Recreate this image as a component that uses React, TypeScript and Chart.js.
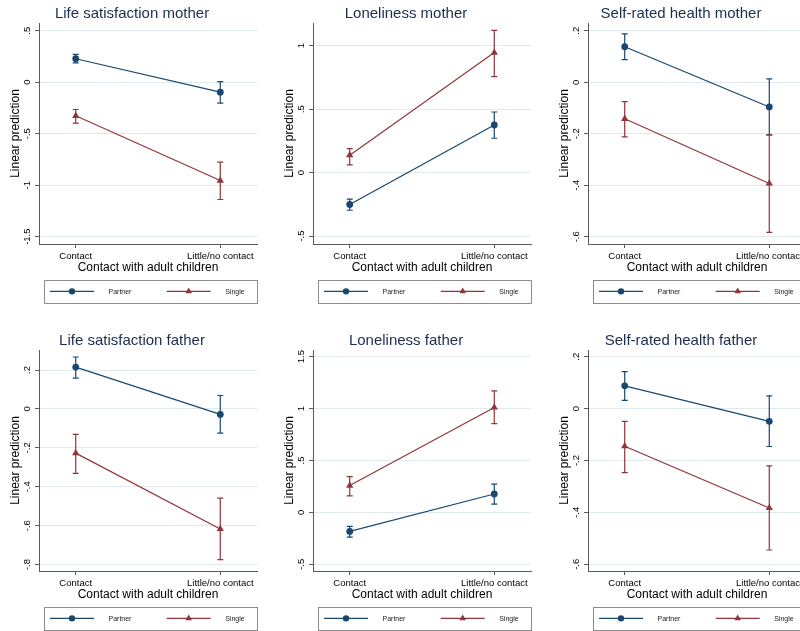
import React, { useEffect, useRef } from 'react';
import { Chart, registerables } from 'chart.js';

Chart.register(...registerables);

const FONT = '"Liberation Sans", Arial, Helvetica, sans-serif';
const NAVY = '#1a476f';
const MAROON = '#90353b';
const AXIS = '#5a5a5a';
const GRID = '#e0e9ed';
const TITLE_COLOR = '#1c2d50';

const categories = ['Contact', 'Little/no contact'];
const seriesNames = ['Partner', 'Single'];
const xAxisTitle = 'Contact with adult children';
const yAxisTitle = 'Linear prediction';

// ---- Life satisfaction mother ----
const lsMotherPartner = [0.228, -0.097];
const lsMotherPartnerCI = [[0.187, 0.27], [-0.203, 0.006]];
const lsMotherSingle = [-0.326, -0.955];
const lsMotherSingleCI = [[-0.397, -0.265], [-1.139, -0.775]];
const lsMotherTicks = [-1.5, -1, -0.5, 0, 0.5];
const lsMotherTickLabels = ['-1.5', '-1', '-.5', '0', '.5'];

// ---- Loneliness mother ----
const lonMotherPartner = [-0.252, 0.375];
const lonMotherPartnerCI = [[-0.297, -0.21], [0.27, 0.477]];
const lonMotherSingle = [0.136, 0.945];
const lonMotherSingleCI = [[0.06, 0.189], [0.756, 1.12]];
const lonMotherTicks = [-0.5, 0, 0.5, 1];
const lonMotherTickLabels = ['-.5', '0', '.5', '1'];

// ---- Self-rated health mother ----
const srhMotherPartner = [0.138, -0.096];
const srhMotherPartnerCI = [[0.088, 0.188], [-0.204, 0.013]];
const srhMotherSingle = [-0.142, -0.393];
const srhMotherSingleCI = [[-0.212, -0.075], [-0.583, -0.204]];
const srhMotherTicks = [-0.6, -0.4, -0.2, 0, 0.2];
const srhMotherTickLabels = ['-.6', '-.4', '-.2', '0', '.2'];

// ---- Life satisfaction father ----
const lsFatherPartner = [0.215, -0.028];
const lsFatherPartnerCI = [[0.158, 0.267], [-0.124, 0.069]];
const lsFatherSingle = [-0.227, -0.617];
const lsFatherSingleCI = [[-0.331, -0.131], [-0.775, -0.458]];
const lsFatherTicks = [-0.8, -0.6, -0.4, -0.2, 0, 0.2];
const lsFatherTickLabels = ['-.8', '-.6', '-.4', '-.2', '0', '.2'];

// ---- Loneliness father ----
const lonFatherPartner = [-0.184, 0.177];
const lonFatherPartnerCI = [[-0.239, -0.136], [0.08, 0.271]];
const lonFatherSingle = [0.258, 1.01];
const lonFatherSingleCI = [[0.158, 0.345], [0.855, 1.17]];
const lonFatherTicks = [-0.5, 0, 0.5, 1, 1.5];
const lonFatherTickLabels = ['-.5', '0', '.5', '1', '1.5'];

// ---- Self-rated health father ----
const srhFatherPartner = [0.088, -0.049];
const srhFatherPartnerCI = [[0.032, 0.143], [-0.146, 0.049]];
const srhFatherSingle = [-0.145, -0.383];
const srhFatherSingleCI = [[-0.247, -0.049], [-0.545, -0.221]];
const srhFatherTicks = [-0.6, -0.4, -0.2, 0, 0.2];
const srhFatherTickLabels = ['-.6', '-.4', '-.2', '0', '.2'];

const panelTitles = [
  'Life satisfaction mother',
  'Loneliness mother',
  'Self-rated health mother',
  'Life satisfaction father',
  'Loneliness father',
  'Self-rated health father',
];

// y-axis extents (plot region limits)
const yMins = [-1.571, -0.563, -0.628, -0.833, -0.565, -0.626];
const yMaxs = [0.575, 1.178, 0.23, 0.303, 1.564, 0.226];

type Panel = {
  title: string;
  partner: number[];
  partnerCI: number[][];
  single: number[];
  singleCI: number[][];
  ticks: number[];
  tickLabels: string[];
  yMin: number;
  yMax: number;
};

const panels: Panel[] = [
  { title: panelTitles[0], partner: lsMotherPartner, partnerCI: lsMotherPartnerCI, single: lsMotherSingle, singleCI: lsMotherSingleCI, ticks: lsMotherTicks, tickLabels: lsMotherTickLabels, yMin: yMins[0], yMax: yMaxs[0] },
  { title: panelTitles[1], partner: lonMotherPartner, partnerCI: lonMotherPartnerCI, single: lonMotherSingle, singleCI: lonMotherSingleCI, ticks: lonMotherTicks, tickLabels: lonMotherTickLabels, yMin: yMins[1], yMax: yMaxs[1] },
  { title: panelTitles[2], partner: srhMotherPartner, partnerCI: srhMotherPartnerCI, single: srhMotherSingle, singleCI: srhMotherSingleCI, ticks: srhMotherTicks, tickLabels: srhMotherTickLabels, yMin: yMins[2], yMax: yMaxs[2] },
  { title: panelTitles[3], partner: lsFatherPartner, partnerCI: lsFatherPartnerCI, single: lsFatherSingle, singleCI: lsFatherSingleCI, ticks: lsFatherTicks, tickLabels: lsFatherTickLabels, yMin: yMins[3], yMax: yMaxs[3] },
  { title: panelTitles[4], partner: lonFatherPartner, partnerCI: lonFatherPartnerCI, single: lonFatherSingle, singleCI: lonFatherSingleCI, ticks: lonFatherTicks, tickLabels: lonFatherTickLabels, yMin: yMins[4], yMax: yMaxs[4] },
  { title: panelTitles[5], partner: srhFatherPartner, partnerCI: srhFatherPartnerCI, single: srhFatherSingle, singleCI: srhFatherSingleCI, ticks: srhFatherTicks, tickLabels: srhFatherTickLabels, yMin: yMins[5], yMax: yMaxs[5] },
];

const CANVAS_W = 264;
const CANVAS_H = 327;
const COL_X = [0, 274, 549];
const ROW_Y = [0, 327];

function drawMarker(ctx: CanvasRenderingContext2D, kind: number, x: number, y: number, r: number, color: string) {
  ctx.fillStyle = color;
  ctx.beginPath();
  if (kind === 0) {
    ctx.arc(x, y, r, 0, Math.PI * 2);
  } else {
    const h = r * 1.5;
    const w = r * Math.sqrt(3);
    ctx.moveTo(x, y - r);
    ctx.lineTo(x + w / 2, y - r + h);
    ctx.lineTo(x - w / 2, y - r + h);
    ctx.closePath();
  }
  ctx.fill();
}

function makePlugin(panel: Panel) {
  const colors = [NAVY, MAROON];
  const cis = [panel.partnerCI, panel.singleCI];
  return {
    id: 'stataDecor',
    beforeDatasetsDraw(chart: any) {
      const { ctx } = chart;
      const x = chart.scales.x;
      const y = chart.scales.y;
      cis.forEach((ci, s) => {
        ctx.save();
        ctx.strokeStyle = colors[s];
        ctx.lineWidth = 1.2;
        ci.forEach((pair, i) => {
          const px = x.getPixelForValue(i);
          const pLo = y.getPixelForValue(pair[0]);
          const pHi = y.getPixelForValue(pair[1]);
          ctx.beginPath();
          ctx.moveTo(px, pLo);
          ctx.lineTo(px, pHi);
          ctx.moveTo(px - 3, pLo);
          ctx.lineTo(px + 3, pLo);
          ctx.moveTo(px - 3, pHi);
          ctx.lineTo(px + 3, pHi);
          ctx.stroke();
        });
        ctx.restore();
      });
    },
    afterDraw(chart: any) {
      const { ctx, chartArea } = chart;
      const x = chart.scales.x;
      const y = chart.scales.y;
      ctx.save();

      // Title
      ctx.fillStyle = TITLE_COLOR;
      ctx.font = `15px ${FONT}`;
      ctx.textAlign = 'center';
      ctx.textBaseline = 'alphabetic';
      ctx.fillText(panel.title, chart.width / 2, 18);

      // Y tick labels (rotated)
      ctx.fillStyle = '#000';
      ctx.font = `9.5px ${FONT}`;
      panel.ticks.forEach((v, i) => {
        const py = y.getPixelForValue(v);
        ctx.save();
        ctx.translate(chartArea.left - 9.5, py);
        ctx.rotate(-Math.PI / 2);
        ctx.textAlign = 'center';
        ctx.textBaseline = 'alphabetic';
        ctx.fillText(panel.tickLabels[i], 0, 0);
        ctx.restore();
      });

      // Y axis title
      ctx.font = `12px ${FONT}`;
      ctx.save();
      ctx.translate(chartArea.left - 20.5, (chartArea.top + chartArea.bottom) / 2);
      ctx.rotate(-Math.PI / 2);
      ctx.textAlign = 'center';
      ctx.textBaseline = 'alphabetic';
      ctx.fillText(yAxisTitle, 0, 0);
      ctx.restore();

      // X tick labels
      ctx.font = `9.5px ${FONT}`;
      ctx.textAlign = 'center';
      categories.forEach((c, i) => {
        ctx.fillText(c, x.getPixelForValue(i), chartArea.bottom + 14.5);
      });

      // X axis title
      ctx.font = `12px ${FONT}`;
      ctx.fillText(xAxisTitle, (chartArea.left + chartArea.right) / 2, chartArea.bottom + 26.8);

      // Legend
      const bl = chartArea.left + 5.3;
      const br = chartArea.right;
      const bt = chartArea.bottom + 36;
      const bb = chartArea.bottom + 58.7;
      ctx.strokeStyle = '#8c8c8c';
      ctx.lineWidth = 1;
      ctx.strokeRect(Math.round(bl) + 0.5, Math.round(bt) + 0.5, Math.round(br - bl), Math.round(bb - bt));
      const ly = (bt + bb) / 2;
      const offsets = [0, 116.7];
      ctx.font = `7px ${FONT}`;
      ctx.textBaseline = 'middle';
      ctx.textAlign = 'left';
      offsets.forEach((off, s) => {
        const x0 = bl + 5.7 + off;
        ctx.strokeStyle = colors[s];
        ctx.lineWidth = 1.2;
        ctx.beginPath();
        ctx.moveTo(x0, ly);
        ctx.lineTo(x0 + 44, ly);
        ctx.stroke();
        drawMarker(ctx, s, x0 + 22, ly, s === 0 ? 3.2 : 3.8, colors[s]);
        ctx.fillStyle = '#222';
        ctx.fillText(seriesNames[s], x0 + 58.5, ly + 0.5);
      });

      ctx.restore();
    },
  };
}

function PanelChart({ panel, left, top }: { panel: Panel; left: number; top: number }) {
  const ref = useRef<HTMLCanvasElement | null>(null);
  useEffect(() => {
    const canvas = ref.current;
    if (!canvas) return;
    const chart = new Chart(canvas, {
      type: 'line',
      data: {
        datasets: [
          {
            label: seriesNames[0],
            data: panel.partner.map((v, i) => ({ x: i, y: v })),
            borderColor: NAVY,
            backgroundColor: NAVY,
            borderWidth: 1.2,
            pointStyle: 'circle',
            pointRadius: 3.4,
            pointBorderWidth: 0,
            pointBackgroundColor: NAVY,
            tension: 0,
          },
          {
            label: seriesNames[1],
            data: panel.single.map((v, i) => ({ x: i, y: v })),
            borderColor: MAROON,
            backgroundColor: MAROON,
            borderWidth: 1.2,
            pointStyle: 'triangle',
            pointRadius: 4.2,
            pointBorderWidth: 0,
            pointBackgroundColor: MAROON,
            tension: 0,
          },
        ],
      },
      options: {
        responsive: false,
        animation: false,
        events: [],
        layout: { padding: { left: 0, right: 7, top: 23, bottom: 0 }, autoPadding: false },
        plugins: {
          legend: { display: false },
          title: { display: false },
          tooltip: { enabled: false },
        },
        scales: {
          x: {
            type: 'linear',
            min: -0.254,
            max: 1.254,
            afterBuildTicks: (scale: any) => {
              scale.ticks = categories.map((_, i) => ({ value: i }));
            },
            afterFit: (scale: any) => {
              scale.height = 83;
            },
            ticks: { display: false },
            grid: {
              display: true,
              drawOnChartArea: false,
              drawTicks: true,
              tickLength: 4,
              tickColor: AXIS,
              lineWidth: 1,
            },
            border: { display: true, color: AXIS, width: 1 },
          },
          y: {
            type: 'linear',
            min: panel.yMin,
            max: panel.yMax,
            afterBuildTicks: (scale: any) => {
              scale.ticks = panel.ticks.map((v) => ({ value: v }));
            },
            afterFit: (scale: any) => {
              scale.width = 39;
            },
            ticks: { display: false },
            grid: {
              display: true,
              drawOnChartArea: true,
              drawTicks: true,
              tickLength: 4,
              color: GRID,
              tickColor: AXIS,
              lineWidth: 1,
            },
            border: { display: true, color: AXIS, width: 1 },
          },
        },
      },
      plugins: [makePlugin(panel)],
    } as any);
    return () => chart.destroy();
  }, [panel]);
  return (
    <canvas
      ref={ref}
      width={CANVAS_W}
      height={CANVAS_H}
      style={{ position: 'absolute', left, top, width: CANVAS_W, height: CANVAS_H }}
    />
  );
}

export default function App() {
  return (
    <div
      style={{
        position: 'fixed',
        left: 0,
        top: 0,
        width: 800,
        height: 631,
        overflow: 'hidden',
        background: '#ffffff',
      }}
    >
      {panels.map((p, i) => (
        <PanelChart key={i} panel={p} left={COL_X[i % 3]} top={ROW_Y[Math.floor(i / 3)]} />
      ))}
    </div>
  );
}
